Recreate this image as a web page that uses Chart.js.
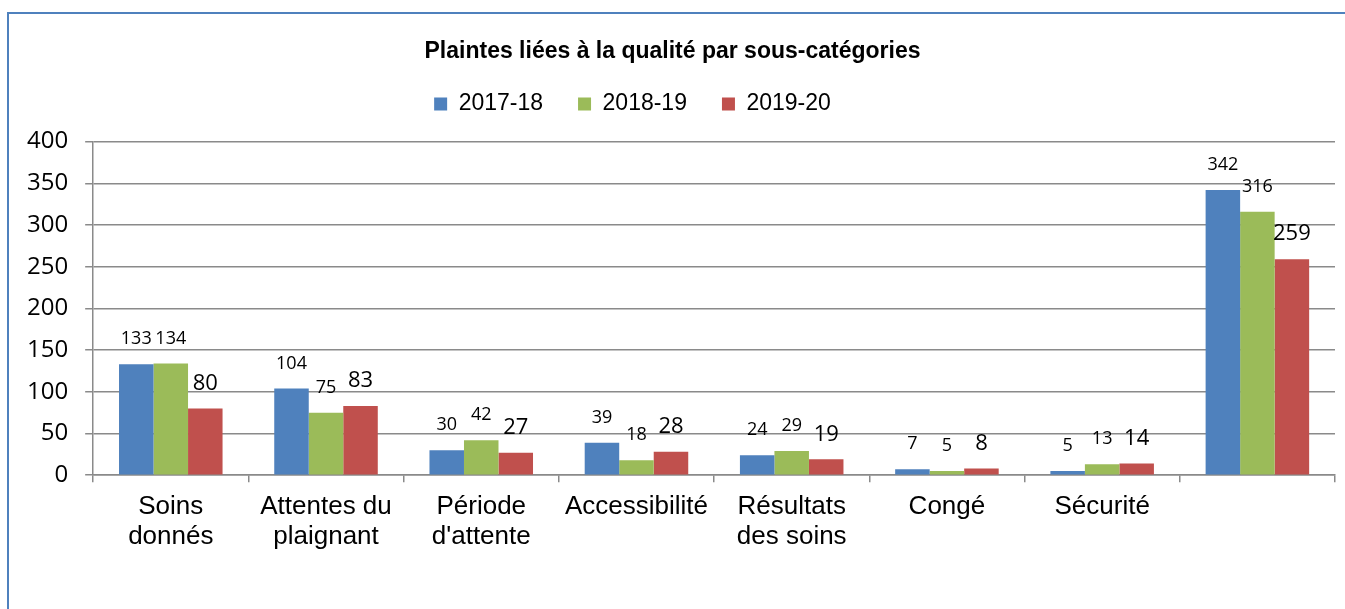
<!DOCTYPE html>
<html><head><meta charset="utf-8">
<script src="https://cdn.jsdelivr.net/npm/chart.js@4/dist/chart.umd.min.js"></script>
<style>
html,body{margin:0;padding:0;background:#fff;overflow:hidden}
#wrap{position:relative;width:1345px;height:609px}
#frame{position:absolute;left:7px;top:12px;width:2000px;height:2000px;border-left:2px solid #4f81bd;border-top:2px solid #4f81bd;pointer-events:none}
canvas{position:absolute;left:0;top:0}
</style></head>
<body><div id="wrap"><canvas id="c" width="1345" height="609"></canvas><div id="frame"></div></div>
<script>
const categories = [["Soins","donnés"],["Attentes du","plaignant"],["Période","d'attente"],"Accessibilité",["Résultats","des soins"],"Congé","Sécurité",""];
const seriesNames = ["2017-18","2018-19","2019-20"];
const values2017 = [133,104,30,39,24,7,5,342];
const values2018 = [134,75,42,18,29,5,13,316];
const values2019 = [80,83,27,28,19,8,14,259];
const yTicks = [0,50,100,150,200,250,300,350,400];
const colors = ["#4f81bd","#9bbb59","#c0504d"];
const labelFonts = [18,18,22];

const labelPlugin = {
  id:'valueLabels',
  afterDatasetsDraw(chart){
    const ctx = chart.ctx;
    chart.data.datasets.forEach((ds,i)=>{
      const meta = chart.getDatasetMeta(i);
      ctx.save();
      ctx.fillStyle = '#000';
      ctx.font = labelFonts[i] + 'px "Open Sans"';
      ctx.textAlign = 'center';
      ctx.textBaseline = 'middle';
      meta.data.forEach((el,j)=>{
        ctx.fillText(String(ds.data[j]), el.x, el.y - 25);
      });
      ctx.restore();
    });
  }
};

const legendTweak = {
  id:'legendTweak',
  beforeInit(chart){
    const lg = chart.legend;
    const fit = lg.fit;
    lg.fit = function(){ fit.call(this); this.height += 16; };
    const draw = lg.draw;
    lg.draw = function(){ const c = this.ctx; c.save(); c.translate(-40,0); draw.call(this); c.restore(); };
  }
};

const gridColor = '#8a8a8a';
new Chart(document.getElementById('c'),{
  type:'bar',
  data:{
    labels:categories,
    datasets:[
      {label:seriesNames[0],data:values2017,backgroundColor:colors[0]},
      {label:seriesNames[1],data:values2018,backgroundColor:colors[1]},
      {label:seriesNames[2],data:values2019,backgroundColor:colors[2]}
    ]
  },
  options:{
    responsive:false,
    animation:false,
    devicePixelRatio:1,
    layout:{padding:{left:10,right:10,top:38,bottom:47}},
    datasets:{bar:{categoryPercentage:0.667,barPercentage:1}},
    plugins:{
      title:{display:true,text:'Plaintes liées à la qualité par sous-catégories',color:'#000',
        font:{family:'"Liberation Sans", Arial',size:23,weight:'bold',lineHeight:1.2},padding:{top:0,bottom:-8}},
      legend:{display:true,labels:{color:'#000',boxWidth:13,boxHeight:13,padding:35,
        font:{family:'"Liberation Sans", Arial',size:23}}},
      tooltip:{enabled:false}
    },
    scales:{
      x:{
        grid:{display:true,drawOnChartArea:false,drawTicks:true,tickLength:7,color:gridColor,lineWidth:1.5,offset:true},
        border:{display:true,color:gridColor,width:1.5},
        ticks:{color:'#000',padding:10,maxRotation:0,autoSkip:false,
          font:{family:'"Liberation Sans", Arial',size:26,lineHeight:1.15}}
      },
      y:{
        min:0,max:400,
        afterBuildTicks(axis){axis.ticks = yTicks.map(v=>({value:v}));},
        grid:{color:gridColor,lineWidth:1.5,tickLength:8,drawTicks:true},
        border:{display:true,color:gridColor,width:1.5},
        ticks:{color:'#000',padding:17,font:{family:'"Open Sans"',size:24}}
      }
    }
  },
  plugins:[labelPlugin,legendTweak]
});
</script></body></html>
